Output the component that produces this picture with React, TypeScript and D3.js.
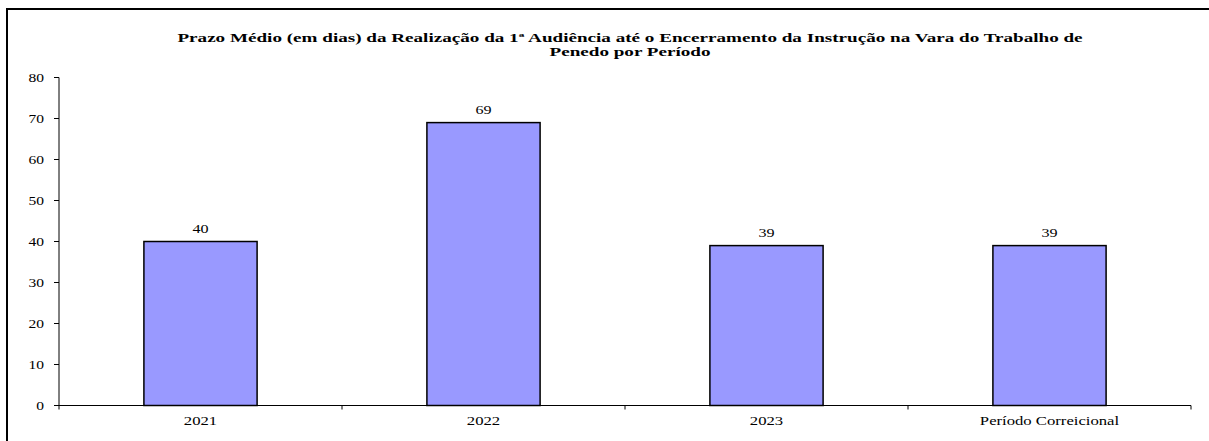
import React from "react";
import * as d3 from "d3";

const categories = ["2021", "2022", "2023", "Período Correicional"];
const values = [40, 69, 39, 39];
const yTicks = [0, 10, 20, 30, 40, 50, 60, 70, 80];
const titleLines = [
  "Prazo Médio (em dias) da Realização da 1ª Audiência até o Encerramento da Instrução na Vara do Trabalho de",
  "Penedo por Período",
];

const font = "'Liberation Serif', 'Times New Roman', serif";

function T({ x, y, sx, anchor, size, bold, children }: any) {
  return (
    <text
      transform={`translate(${x},${y}) scale(${sx},1)`}
      textAnchor={anchor}
      fontFamily={font}
      fontSize={size}
      fontWeight={bold ? "bold" : "normal"}
      fill="#000"
    >
      {children}
    </text>
  );
}

export default function App() {
  const W = 1209;
  const H = 441;
  const left = 59;
  const right = 1191;
  const top = 77.5;
  const bottom = 405.5;

  const x = d3.scaleBand<string>().domain(categories).range([left, right]).paddingInner(0.6).paddingOuter(0.3);
  const y = d3.scaleLinear().domain([0, 80]).range([bottom, top]);
  const step = (right - left) / categories.length;

  return (
    <svg width={W} height={H} style={{ position: "absolute", left: 0, top: 0 }}>
      <rect x={0} y={0} width={W} height={H} fill="#fff" />
      <rect x={7} y={9} width={W + 10} height={H + 10} fill="none" stroke="#000" strokeWidth={2} />
      {titleLines.map((t, i) => (
        <T key={i} x={630} y={42 + i * 14} sx={1.53} anchor="middle" size={12.5} bold>
          {t}
        </T>
      ))}
      {categories.map((c, i) => {
        const bx = x(c)!;
        const bw = x.bandwidth();
        return (
          <g key={c}>
            <rect x={bx} y={y(values[i])} width={bw} height={bottom - y(values[i])} fill="#9999FF" stroke="#000" strokeWidth={1.5} />
            <T x={bx + bw / 2} y={y(values[i]) - 9} sx={1.4} anchor="middle" size={11.5}>{values[i]}</T>
            <T x={left + step * (i + 0.5)} y={425} sx={1.45} anchor="middle" size={11.5}>{c}</T>
          </g>
        );
      })}
      <line x1={left} x2={left} y1={top} y2={bottom} stroke="#000" strokeWidth={1} />
      <line x1={left} x2={right} y1={bottom} y2={bottom} stroke="#000" strokeWidth={1.2} />
      {yTicks.map((t) => (
        <g key={t}>
          <line x1={left - 5} x2={left} y1={y(t)} y2={y(t)} stroke="#000" />
          <T x={44} y={y(t) + 4} sx={1.35} anchor="end" size={11.5}>{t}</T>
        </g>
      ))}
      {d3.range(categories.length + 1).map((i) => (
        <line key={i} x1={left + step * i} x2={left + step * i} y1={bottom} y2={bottom + 4} stroke="#000" />
      ))}
    </svg>
  );
}
